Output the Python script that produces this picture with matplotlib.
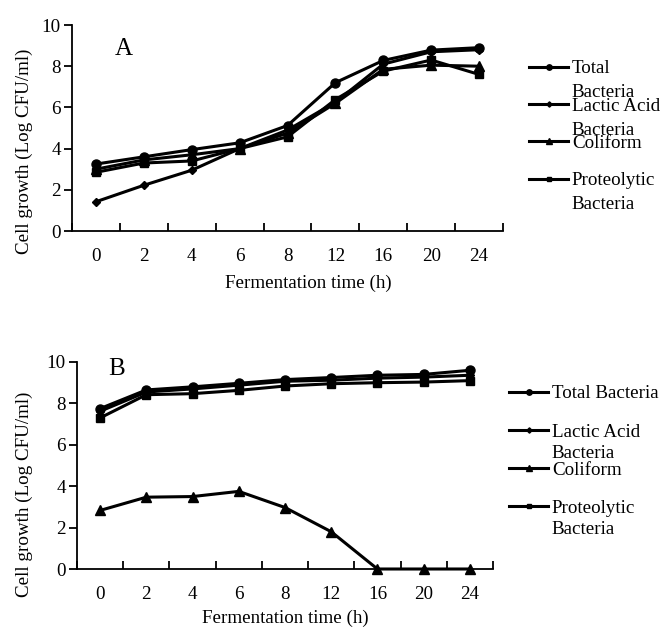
import matplotlib
matplotlib.use('Agg')
import matplotlib.pyplot as plt
import numpy as np

plt.rcParams['font.family'] = ['Liberation Serif', 'DejaVu Serif']
plt.rcParams['font.size'] = 13.7

# Data setup
time_labels = ['0', '2', '4', '6', '8', '12', '16', '20', '24']
series_names = ['Total Bacteria', 'Lactic Acid Bacteria', 'Coliform', 'Proteolytic Bacteria']

# Panel A
total_a = [3.25, 3.6, 3.95, 4.28, 5.12, 7.2, 8.28, 8.78, 8.9]
lactic_a = [1.42, 2.22, 2.95, 4.0, 4.9, 6.25, 8.1, 8.7, 8.8]
coliform_a = [3.0, 3.45, 3.7, 4.0, 4.75, 6.2, 7.85, 8.05, 8.0]
proteo_a = [2.85, 3.3, 3.4, 4.0, 4.57, 6.38, 7.76, 8.3, 7.6]

# Panel B
total_b = [7.75, 8.65, 8.8, 8.97, 9.15, 9.25, 9.36, 9.4, 9.6]
lactic_b = [7.62, 8.55, 8.7, 8.88, 9.07, 9.12, 9.22, 9.27, 9.36]
coliform_b = [2.83, 3.47, 3.5, 3.75, 2.97, 1.8, 0, 0, 0]
proteo_b = [7.3, 8.42, 8.47, 8.63, 8.84, 8.95, 9.0, 9.03, 9.1]

W, H = 664, 628
fig = plt.figure(figsize=(W / 100, H / 100), dpi=100)

markers = ['o', 'D', '^', 's']
msizes = [6.5, 4.5, 6.5, 6]
FS = 13.7


def fx(px):
    return px / W


def fy(py):
    return 1 - py / H


def draw_panel(rect, data, letter, letter_xy, leg_labels, leg_xy, extra_offset, spacing):
    ax = fig.add_axes(rect)
    x = np.arange(len(time_labels))
    lines = []
    for vals, m, ms, name in zip(data, markers, msizes, series_names):
        ln, = ax.plot(x, vals, color='black', lw=2.2, marker=m, ms=ms,
                      markeredgecolor='black', markerfacecolor='black',
                      label=name, clip_on=False, zorder=3)
        lines.append(ln)
    ax.set_xlim(-0.5, len(time_labels) - 0.5)
    ax.set_ylim(0, 10)
    ax.set_yticks([0, 2, 4, 6, 8, 10])
    ax.set_xticks(x)
    ax.set_xticklabels(time_labels)
    ax.set_xticks(np.arange(-0.5, len(time_labels), 1), minor=True)
    ax.tick_params(axis='x', which='major', length=0, pad=12, labelsize=FS)
    ax.tick_params(axis='x', which='minor', direction='in', length=6, width=1.3)
    ax.tick_params(axis='y', direction='out', length=6, width=1.3, pad=2, labelsize=FS)
    for s in ['top', 'right']:
        ax.spines[s].set_visible(False)
    for s in ['left', 'bottom']:
        ax.spines[s].set_linewidth(1.3)

    ax.text(letter_xy[0], letter_xy[1], letter, transform=fig.transFigure,
            fontsize=18, ha='left', va='baseline')

    # legend with first lines; second lines added below each label
    firsts = [lab.split('\n')[0] for lab in leg_labels]
    leg = ax.legend(lines, firsts, loc='upper left', bbox_to_anchor=leg_xy,
                    bbox_transform=fig.transFigure, frameon=False,
                    borderpad=0, borderaxespad=0, handlelength=2.05,
                    handletextpad=0.2, labelspacing=spacing, markerscale=0.6,
                    fontsize=FS)
    for t, lab in zip(leg.get_texts(), leg_labels):
        parts = lab.split('\n')
        if len(parts) > 1:
            ax.annotate(parts[1], xy=(0, 0), xycoords=t,
                        xytext=(0, -extra_offset), textcoords='offset pixels',
                        va='baseline', ha='left', fontsize=FS, zorder=10,
                        annotation_clip=False)
    return ax


ax1 = draw_panel([fx(72), fy(231), fx(431), fy(25) - fy(231)],
                 [total_a, lactic_a, coliform_a, proteo_a],
                 'A', (fx(115), fy(55)),
                 ['Total\nBacteria', 'Lactic Acid\nBacteria', 'Coliform', 'Proteolytic\nBacteria'],
                 (fx(529), fy(60)), 20, 1.05)
ax2 = draw_panel([fx(77), fy(569), fx(416), fy(362) - fy(569)],
                 [total_b, lactic_b, coliform_b, proteo_b],
                 'B', (fx(108), fy(375)),
                 ['Total Bacteria', 'Lactic Acid\nBacteria', 'Coliform', 'Proteolytic\nBacteria'],
                 (fx(509), fy(385)), 17, 1.1)

# Axis titles
fig.text(fx(24), fy(151), 'Cell growth (Log CFU/ml)', rotation=90, ha='center', va='center', fontsize=FS)
fig.text(fx(24), fy(494), 'Cell growth (Log CFU/ml)', rotation=90, ha='center', va='center', fontsize=FS)
fig.text(fx(308), fy(283), 'Fermentation time (h)', ha='center', va='center', fontsize=FS)
fig.text(fx(285), fy(618), 'Fermentation time (h)', ha='center', va='center', fontsize=FS)

fig.savefig('out.png', dpi=100)
